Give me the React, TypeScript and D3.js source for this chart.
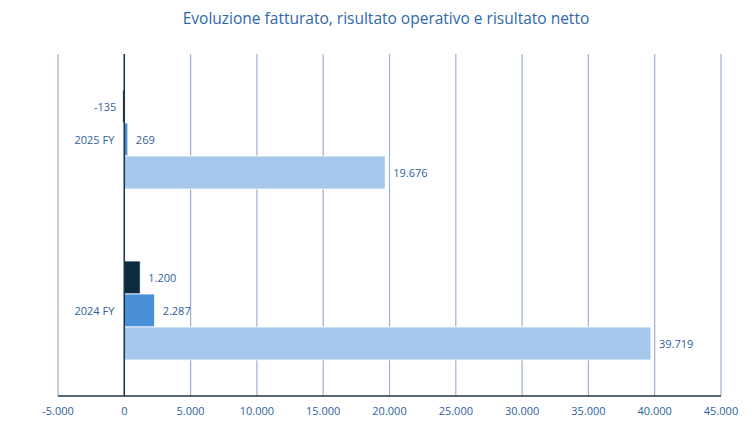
import React from "react";
import * as d3 from "d3";

const categories = ["2025 FY", "2024 FY"];
const seriesNames = ["Risultato netto", "Risultato operativo", "Fatturato"];
const netto = [-135, 1200];
const operativo = [269, 2287];
const fatturato = [19676, 39719];
const tickValues = [-5000, 0, 5000, 10000, 15000, 20000, 25000, 30000, 35000, 40000, 45000];
const seriesColors = ["#0D2B3E", "#4A90D9", "#A6C8EC"];

const W = 753;
const H = 423;
const M = { left: 58, right: 32, top: 54, bottom: 27 };

const fmt = (v: number) => {
  const s = Math.abs(v).toString().replace(/\B(?=(\d{3})+(?!\d))/g, ".");
  return (v < 0 ? "-" : "") + s;
};

export default function App() {
  const x = d3.scaleLinear().domain([-5000, 45000]).range([M.left, W - M.right]);
  const y = d3.scaleBand().domain(categories).range([M.top, H - M.bottom]).paddingInner(0.0).paddingOuter(0);
  const series = [netto, operativo, fatturato];
  const barH = 33;
  const groupH = barH * 3;
  const textColor = "#2F5F9E";
  const font = "'Open Sans', 'Noto Sans', sans-serif";

  return (
    <svg width={W} height={H} style={{ position: "absolute", left: 0, top: 0, background: "#fff" }}>
      <text x={386} y={24} textAnchor="middle" fontFamily={font} fontSize={15.5} fill="#2E68A8">
        Evoluzione fatturato, risultato operativo e risultato netto
      </text>
      {tickValues.map((t) => (
        <line key={t} x1={x(t)} x2={x(t)} y1={M.top} y2={H - M.bottom} stroke="#9DB3CF" strokeWidth={1.2} />
      ))}
      {categories.map((c, ci) => {
        const y0 = (y(c) as number) + (y.bandwidth() - groupH) / 2;
        return (
          <g key={c}>
            {series.map((s, si) => {
              const v = s[ci];
              const by = y0 + si * barH;
              const x0 = x(Math.min(0, v));
              const w = Math.abs(x(v) - x(0));
              const lx = v < 0 ? x(0) - 8 : x(v) + 8;
              return (
                <g key={si}>
                  <rect x={x0} y={by} width={Math.max(w, 1)} height={barH} fill={seriesColors[si]} stroke="#fff" strokeWidth={0.8} />
                  <text x={lx} y={by + barH / 2 + 4} textAnchor={v < 0 ? "end" : "start"} fontFamily={font} fontSize={11} fill={textColor}>
                    {fmt(v)}
                  </text>
                </g>
              );
            })}
            <text x={x(0) - 10} y={(y(c) as number) + y.bandwidth() / 2 + 4} textAnchor="end" fontFamily={font} fontSize={11} fill={textColor}>
              {c}
            </text>
          </g>
        );
      })}
      <line x1={x(0)} x2={x(0)} y1={M.top} y2={H - M.bottom} stroke="#1E3547" strokeWidth={1.5} />
      <line x1={M.left} x2={W - M.right} y1={H - M.bottom} y2={H - M.bottom} stroke="#1E3547" strokeWidth={1.5} />
      {tickValues.map((t) => (
        <text key={t} x={x(t)} y={H - M.bottom + 19} textAnchor="middle" fontFamily={font} fontSize={11} fill={textColor}>
          {fmt(t)}
        </text>
      ))}
      <title>{seriesNames.join(", ")}</title>
    </svg>
  );
}
